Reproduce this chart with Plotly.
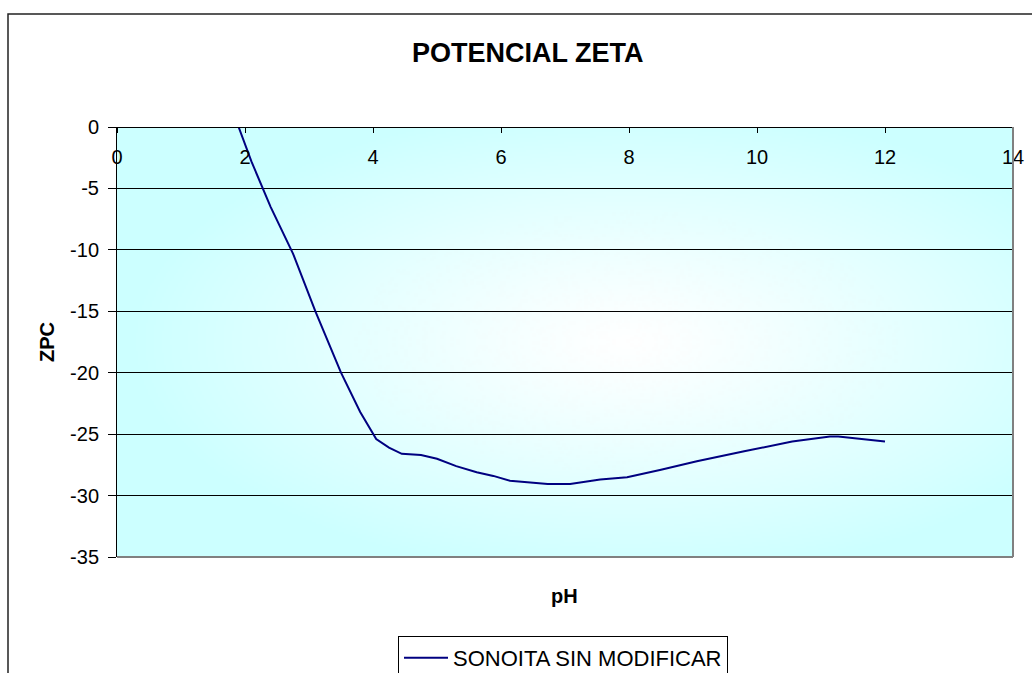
import base64, struct, zlib
import numpy as np
import plotly.graph_objects as go

# ---- data ----
ph = [1.9, 2.1, 2.4, 2.75, 3.1, 3.5, 3.8, 4.05, 4.25, 4.45, 4.75, 5.0, 5.3, 5.62, 5.88,
      6.14, 6.73, 7.08, 7.55, 7.97, 8.5, 9.06, 9.8, 10.55, 11.14, 11.27, 12.0]
zpc = [0, -2.8, -6.5, -10.3, -15, -20, -23.2, -25.4, -26.1, -26.6, -26.7, -27.0, -27.6, -28.1, -28.4,
       -28.8, -29.05, -29.05, -28.7, -28.5, -27.9, -27.2, -26.4, -25.6, -25.2, -25.2, -25.6]
series_name = "SONOITA SIN MODIFICAR"
x_ticks = [0, 2, 4, 6, 8, 10, 12, 14]
y_ticks = [0, -5, -10, -15, -20, -25, -30, -35]

FONT = "Liberation Sans, Arial, sans-serif"

# ---- radial gradient background (white centre -> pale cyan edges) as a PNG ----
W, H = 448, 216
xx, yy = np.meshgrid(np.linspace(0, 1, W), np.linspace(0, 1, H))
r = np.sqrt(((xx - 0.57) / 0.56) ** 2 + ((yy - 0.5) / 0.56) ** 2)
t = np.clip(r, 0, 1) ** 1.15
edge = np.array([204, 255, 255], float)
centre = np.array([255, 255, 255], float)
img = (centre[None, None, :] * (1 - t[..., None]) + edge[None, None, :] * t[..., None]).astype(np.uint8)

def to_png(arr):
    h, w, _ = arr.shape
    raw = b"".join(b"\x00" + arr[i].tobytes() for i in range(h))
    def chunk(tag, data):
        c = struct.pack(">I", len(data)) + tag + data
        return c + struct.pack(">I", zlib.crc32(tag + data) & 0xffffffff)
    return (b"\x89PNG\r\n\x1a\n" + chunk(b"IHDR", struct.pack(">IIBBBBB", w, h, 8, 2, 0, 0, 0))
            + chunk(b"IDAT", zlib.compress(raw, 9)) + chunk(b"IEND", b""))

png_uri = "data:image/png;base64," + base64.b64encode(to_png(img)).decode()

fig = go.Figure()
fig.add_trace(go.Scatter(x=ph, y=zpc, mode="lines", name=series_name,
                         line=dict(color="#000080", width=2), showlegend=True))

fig.update_layout(
    width=1032, height=673,
    margin=dict(l=117, r=19, t=127, b=116, autoexpand=False),
    paper_bgcolor="white", plot_bgcolor="rgba(0,0,0,0)",
    font=dict(family=FONT, color="black", size=20),
    showlegend=True,
    legend=dict(x=(398 - 117) / 896, y=(557 - 636) / 430, xanchor="left", yanchor="top",
                bordercolor="black", borderwidth=1, bgcolor="white",
                font=dict(size=22, family=FONT), itemwidth=44),
    images=[dict(source=png_uri, xref="x domain", yref="y domain", x=0, y=1,
                 sizex=1, sizey=1, xanchor="left", yanchor="top", sizing="stretch",
                 layer="below")],
)

fig.update_xaxes(range=[0, 14], tickvals=x_ticks, ticktext=[str(v) for v in x_ticks],
                 anchor="free", position=1, side="bottom",
                 showline=True, linecolor="black", linewidth=1,
                 ticks="outside", ticklen=5, tickcolor="black",
                 ticklabelstandoff=7, showgrid=False, zeroline=False,
                 tickfont=dict(size=20))
fig.update_yaxes(range=[-35, 0], tickvals=y_ticks, ticktext=[str(v) for v in y_ticks],
                 showline=True, linecolor="black", linewidth=1,
                 ticks="outside", ticklen=8, tickcolor="black",
                 ticklabelstandoff=5, showgrid=True, gridcolor="black", gridwidth=1,
                 zeroline=False, tickfont=dict(size=20))

# plot-area right/bottom border (grey)
fig.add_shape(type="line", xref="x domain", yref="y domain", x0=1, x1=1, y0=0, y1=1,
              line=dict(color="#808080", width=2))
fig.add_shape(type="line", xref="x domain", yref="y domain", x0=0, x1=1, y0=0, y1=0,
              line=dict(color="#808080", width=2))
# chart outer border
fig.add_shape(type="rect", xref="paper", yref="paper",
              x0=(8 - 117) / 896, x1=(1040 - 117) / 896,
              y0=(557 - 690) / 430, y1=(557 - 14) / 430,
              line=dict(color="#222222", width=1.5))

fig.add_annotation(text="<b>POTENCIAL ZETA</b>", xref="paper", yref="paper",
                   x=(528 - 117) / 896, y=(557 - 53) / 430, showarrow=False,
                   xanchor="center", yanchor="middle", font=dict(size=27, family=FONT))
fig.add_annotation(text="<b>pH</b>", xref="paper", yref="paper",
                   x=(564 - 117) / 896, y=(557 - 596) / 430, showarrow=False,
                   xanchor="center", yanchor="middle", font=dict(size=20, family=FONT))
fig.add_annotation(text="<b>ZPC</b>", xref="paper", yref="paper",
                   x=(47 - 117) / 896, y=(557 - 342) / 430, showarrow=False, textangle=-90,
                   xanchor="center", yanchor="middle", font=dict(size=20, family=FONT))

fig.write_html("out.html", config={"displayModeBar": False},
               post_script="document.body.style.margin='0';document.body.style.overflow='hidden';")
